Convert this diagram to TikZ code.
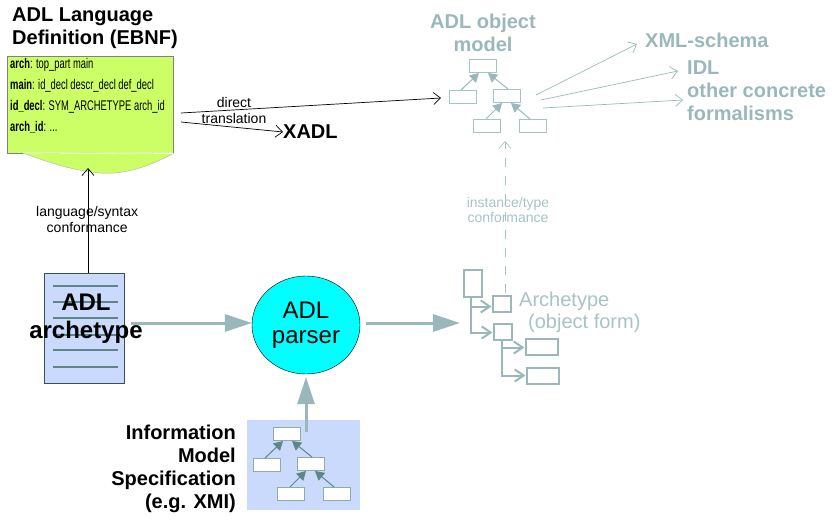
\documentclass[tikz,border=0pt]{standalone}
\usepackage{fontspec}
\setmainfont{Liberation Sans}
\newfontfamily\narrowfont[FakeStretch=0.67]{Liberation Sans}
\usetikzlibrary{positioning, arrows.meta, shapes.geometric}
\definecolor{paleteal}{HTML}{A6C3C6}
\definecolor{midteal}{HTML}{9AB8BB}
\definecolor{darkteal}{HTML}{5F8586}
\definecolor{docblue}{HTML}{C9DAFC}
\definecolor{grammargreen}{HTML}{CCFF66}
\definecolor{parsercyan}{HTML}{00FFFF}
\tikzset{
x=1pt, y=-1pt,
every node/.style={font=\fontsize{14}{16}\selectfont, inner sep=0pt, align=center}, % all labels are small unless said otherwise
headline/.style={font=\fontsize{20}{23}\bfseries\selectfont},
smalllabel/.style={font=\fontsize{14}{15.5}\selectfont},
thinarrow/.style={-{Straight Barb[length=7pt,width=12pt]}, line width=0.7pt},
bigarrow/.style={-{Triangle[length=27pt,width=17pt]}, line width=3pt, midteal},
docline/.style={line width=2.2pt, darkteal},
treebox/.style={draw, minimum width=27pt, minimum height=13pt, line width=1pt},
treeedge/.style={-{Triangle[length=9pt,width=10pt]}, line width=1pt},
formbox/.style={draw=midteal, line width=2pt},
formedge/.style={-{Straight Barb[length=9pt,width=12pt]}, line width=2pt, midteal},
pics/modeltree/.style={code={
    \node[treebox] (-top) at (14,7) {};
    \node[treebox] (-left) at (-6,38) {};
    \node[treebox] (-mid) at (38,37) {};
    \node[treebox] (-lowl) at (18,67) {};
    \node[treebox] (-lowr) at (64,67) {};
    \draw[treeedge] ([xshift=-2pt]-left.north) -- ([xshift=-4pt]-top.south);
    \draw[treeedge] ([xshift=1pt]-mid.north) -- ([xshift=5pt]-top.south);
    \draw[treeedge] ([xshift=-1pt]-lowl.north) -- ([xshift=-5pt]-mid.south);
    \draw[treeedge] ([xshift=-3pt]-lowr.north) -- ([xshift=4pt]-mid.south);
}},
}

\begin{document}
\begin{tikzpicture}
    \useasboundingbox (0,0) rectangle (832,527);

    % grammar document
    \node[headline, anchor=north west, align=left] (grammartitle) at (12,8) {ADL Language\\Definition (EBNF)};
    \node[draw=gray, fill=grammargreen, minimum width=166pt, minimum height=97pt, anchor=north west] (grammar) at (7,56) {};
    \path[fill=grammargreen, draw=gray!60, line width=0.4pt] (grammar.south east) .. controls (150,166) and (125,175) .. (100,173)
        .. controls (75,171) and (50,163) .. (23,153) -- cycle;
    \draw[white, line width=0.8pt] (23,153) -- (grammar.south east);
    \node[font=\narrowfont\fontsize{14}{20.8}\selectfont, anchor=north west, align=left] (rules) at (10,58.5) {%
        \textbf{arch}: top\_part main\\
        \textbf{main}: id\_decl descr\_decl def\_decl\\
        \textbf{id\_decl}: SYM\_ARCHETYPE arch\_id\\
        \textbf{arch\_id}: ...};

    % archetype document
    \node[draw=darkteal!60!black, fill=docblue, line width=0.8pt, minimum width=80pt, minimum height=110pt] (archdoc) at (84.5,328) {};
    \foreach \ypos in {286,302,318,335,350,367}
        \draw[docline] (53,\ypos) -- (118,\ypos);
    \node[font=\fontsize{24}{28}\bfseries\selectfont] (archlabel) at (86,318.5) {ADL\\archetype};

    % parser
    \node[ellipse, draw, fill=parsercyan, minimum width=108pt, minimum height=98pt, font=\fontsize{24}{25}\selectfont] (parser) at (306,325) {ADL\\parser};

    % information model
    \node[fill=docblue, minimum width=113pt, minimum height=90pt] (infobox) at (303.5,465) {};
    \node[headline, align=right, anchor=east] (infolabel) at (236,468.5) {Information\\Model\\Specification\\(e.g. XMI)};
    \pic (spectree) [treebox/.append style={fill=white, draw=darkteal!70}, treeedge/.append style={darkteal}] at (273,427) {modeltree};

    % object model
    \node[headline, text=midteal] (objlabel) at (483,33) {ADL object\\model};
    \pic (objtree) [treebox/.append style={draw=paleteal}, treeedge/.append style={midteal}] at (469,59) {modeltree};

    % concrete formalisms
    \node[headline, text=midteal, anchor=west] (xmlschema) at (645,40) {XML-schema};
    \node[headline, text=midteal, anchor=north west, align=left] (formalisms) at (687,60.5) {IDL\\other concrete\\formalisms};

    % archetype object form
    \node[formbox, minimum width=18pt, minimum height=27pt] (forma) at (472.5,283) {};
    \node[formbox, minimum width=18pt, minimum height=16pt] (formb) at (501.5,303.5) {};
    \node[formbox, minimum width=18pt, minimum height=16pt] (formc) at (502.5,331.5) {};
    \node[formbox, minimum width=32pt, minimum height=16pt] (formd) at (541.5,346.5) {};
    \node[formbox, minimum width=32pt, minimum height=16pt] (forme) at (542.5,375.5) {};
    \node[font=\fontsize{20}{22}\selectfont, text=paleteal, align=left, anchor=north west] (formlabel) at (519,292) {Archetype\\\hspace*{9pt}(object form)};

    % helpers for the free ends
    \coordinate (xadlstart) at (181,122);
    \coordinate (objstart) at (181,113);
    \coordinate (fanone) at (536,95);
    \coordinate (fantwo) at (541,100);
    \coordinate (fanthree) at (543,108);
    \coordinate (confstart) at (505,293);
    \coordinate (confend) at (505,141);
    \coordinate (parserout) at (460,323);
    \coordinate (specstart) at (306,432);
    \node[headline, anchor=west] (xadl) at (283,132) {XADL};

    \draw[thinarrow] (archdoc.north -| 88,0) -- (88,168);
    \draw[thinarrow] (objstart) -- ([shift={(-8pt,-1pt)}]objtree-left.west);
    \draw[thinarrow] (xadlstart) -- (xadl.west);
    \draw[thinarrow, midteal] (fanone) -- ([shift={(-8pt,-4pt)}]xmlschema.west);
    \draw[thinarrow, midteal] (fantwo) -- ([shift={(-9pt,-10.5pt)}]formalisms.north west);
    \draw[thinarrow, midteal] (fanthree) -- ([shift={(-4pt,-39.5pt)}]formalisms.north west);
    \draw[thinarrow, paleteal, dash pattern=on 9pt off 9pt] (confstart) -- (confend);
    \draw[bigarrow, shorten <=6pt] ([yshift=5pt]archdoc.east) -- ([yshift=2pt]parser.west);
    \draw[bigarrow, shorten <=6pt] ([yshift=2pt]parser.east) -- (parserout);
    \draw[bigarrow, shorten >=3pt] (specstart) -- (parser.south);

    \draw[formedge] ([xshift=-1.5pt]forma.south) |- ([yshift=-3pt]formb.west);
    \draw[formedge] ([xshift=-1.5pt]forma.south) |- ([yshift=-1pt]formc.west);
    \draw[formedge] ([xshift=-1pt]formc.south) |- ([yshift=-1pt]formd.west);
    \draw[formedge] ([xshift=-1pt]formc.south) |- (forme.west);

    % connector labels
    \node[smalllabel, below=0pt of grammar.south, yshift=-53pt, xshift=-3pt] (langlabel) {language/syntax\\conformance};
    \node[smalllabel] (directlabel) at (234,102) {direct};
    \node[smalllabel] (translabel) at (234,118) {translation};
    \node[smalllabel, text=paleteal] (conflabel) at (508,210) {instance/type\\conformance};
\end{tikzpicture}
\end{document}
